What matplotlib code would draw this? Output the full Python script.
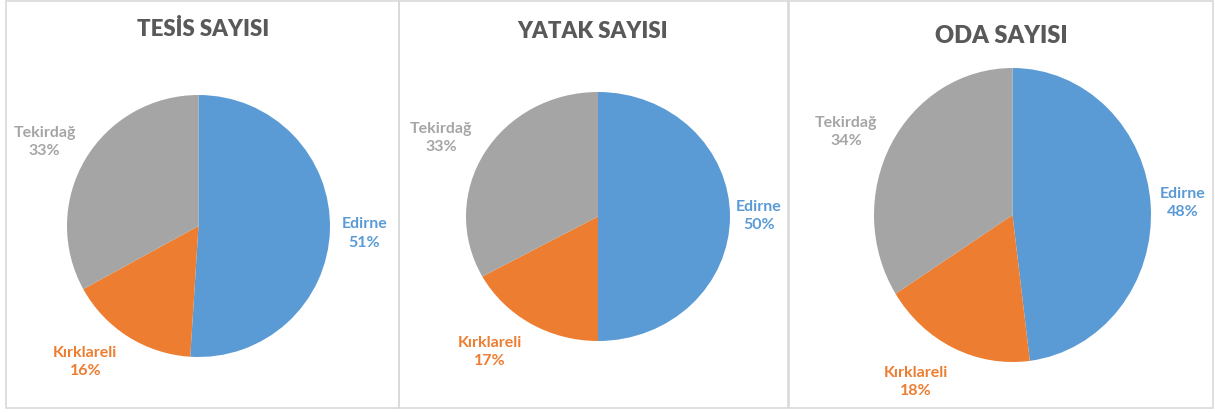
import matplotlib
matplotlib.use("Agg")
import matplotlib.pyplot as plt
from matplotlib.patches import Rectangle

plt.rcParams['font.family'] = ['Lato', 'DejaVu Sans']

# province shares (%) for each indicator
provinces = ['Edirne', 'Kırklareli', 'Tekirdağ']
titles = ['TESİS SAYISI', 'YATAK SAYISI', 'ODA SAYISI']
tesis = [51, 16, 33]
yatak = [50, 17, 33]
oda = [48, 18, 34]
colors = ['#5B9BD5', '#ED7D31', '#A5A5A5']

W, H = 1215, 414

# pixel boxes: panel frame (x0, y0, x1, y1) and pie bounding box, top-down
frames = [(6, 2, 399, 409), (399, 2, 788, 409), (789, 2, 1213, 409)]
pie_boxes = [(67, 96, 330, 358), (466, 93, 730, 342), (874, 69, 1151, 363)]
title_pos = [(203, 30), (593, 31), (1001, 36)]
title_size = [16, 16, 17]
# label centres in pie data units (radius = 1)
label_pos = [
    [(1.26, -0.05), (-0.86, -1.03), (-1.17, 0.65)],
    [(1.22, 0.01), (-0.82, -1.08), (-1.19, 0.64)],
    [(1.23, 0.09), (-0.70, -1.13), (-1.20, 0.57)],
]

fig = plt.figure(figsize=(W / 100, H / 100), dpi=100)
fig.patch.set_facecolor('white')

for i, values in enumerate([tesis, yatak, oda]):
    x0, y0, x1, y1 = frames[i]
    fig.patches.append(Rectangle((x0 / W, 1 - y1 / H), (x1 - x0) / W, (y1 - y0) / H,
                                 transform=fig.transFigure, fill=False,
                                 edgecolor='#D9D9D9', linewidth=1.2))

    px0, py0, px1, py1 = pie_boxes[i]
    ax = fig.add_axes([px0 / W, 1 - py1 / H, (px1 - px0) / W, (py1 - py0) / H])
    ax.pie(values, colors=colors, startangle=90, counterclock=False,
           radius=1, wedgeprops={'linewidth': 0})
    ax.set_aspect('auto')
    ax.set_xlim(-1, 1)
    ax.set_ylim(-1, 1)
    ax.axis('off')

    for name, v, c, (lx, ly) in zip(provinces, values, colors, label_pos[i]):
        ax.text(lx, ly, f'{name}\n{v}%', color=c, fontsize=11.5, fontweight='bold',
                ha='center', va='center', linespacing=1.4, clip_on=False)

    tx, ty = title_pos[i]
    fig.text(tx / W, 1 - ty / H, titles[i], ha='center', va='center',
             fontsize=title_size[i], fontweight='heavy', color='#595959')

plt.savefig('out.png', dpi=100, facecolor='white')
plt.close()
